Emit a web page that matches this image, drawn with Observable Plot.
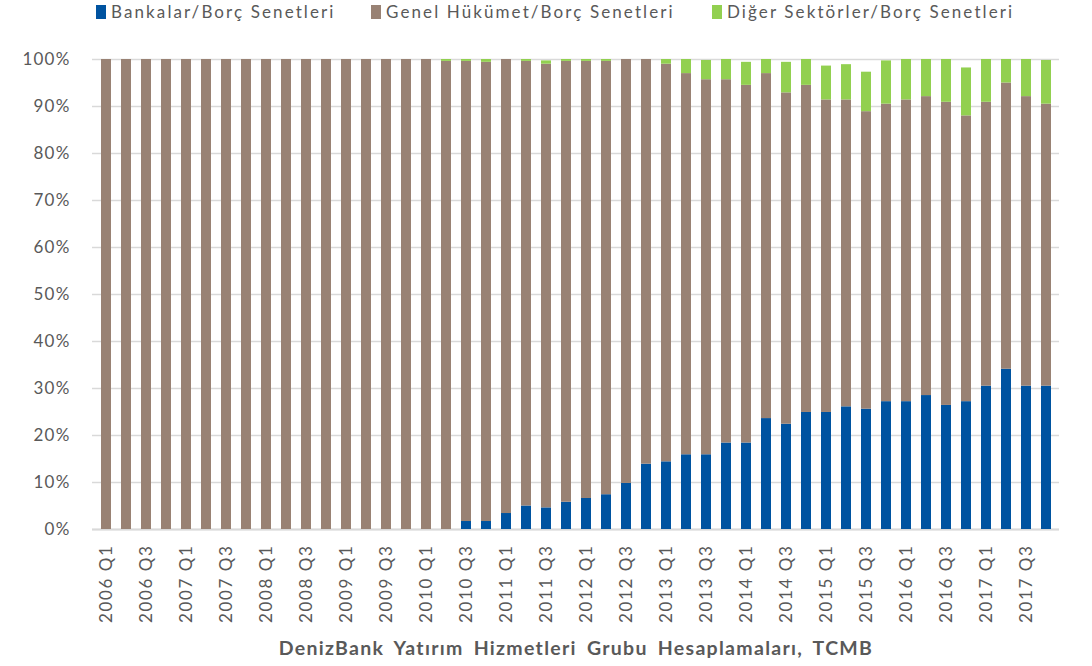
<!DOCTYPE html>
<html>
<head>
<meta charset="utf-8">
<script src="https://cdn.jsdelivr.net/npm/d3@7"></script>
<script src="https://cdn.jsdelivr.net/npm/@observablehq/plot@0.6"></script>
<style>
  body { margin: 0; background: #fff; font-family: Lato, "Liberation Sans", sans-serif; color: #595959; }
  #wrap { position: relative; width: 1092px; height: 666px; }
  #legend { position: absolute; top: 0; left: 0; width: 1092px; height: 26px; }
  .item { position: absolute; top: 2px; font-size: 17px; letter-spacing: 2.1px; line-height: 20px; white-space: nowrap; }
  .sw { display: inline-block; width: 10px; height: 14px; margin-right: 5px; vertical-align: -1px; }
  #chart { position: absolute; top: 26px; left: 0; }
  #caption { position: absolute; top: 636px; left: 92px; width: 968px; text-align: center;
             font-weight: bold; font-size: 19.5px; letter-spacing: 1.3px; word-spacing: 4px; white-space: nowrap; }
  g[aria-label="x-axis tick label"] text { letter-spacing: 1.6px; }
  g[aria-label="y-axis tick label"] text { letter-spacing: 1.2px; }
</style>
</head>
<body>
<div id="wrap">
  <div id="legend"></div>
  <div id="chart"></div>
  <div id="caption">DenizBank Yatırım Hizmetleri Grubu Hesaplamaları, TCMB</div>
</div>
<script>
const quarters = [
  "2006 Q1","2006 Q2","2006 Q3","2006 Q4","2007 Q1","2007 Q2","2007 Q3","2007 Q4",
  "2008 Q1","2008 Q2","2008 Q3","2008 Q4","2009 Q1","2009 Q2","2009 Q3","2009 Q4",
  "2010 Q1","2010 Q2","2010 Q3","2010 Q4","2011 Q1","2011 Q2","2011 Q3","2011 Q4",
  "2012 Q1","2012 Q2","2012 Q3","2012 Q4","2013 Q1","2013 Q2","2013 Q3","2013 Q4",
  "2014 Q1","2014 Q2","2014 Q3","2014 Q4","2015 Q1","2015 Q2","2015 Q3","2015 Q4",
  "2016 Q1","2016 Q2","2016 Q3","2016 Q4","2017 Q1","2017 Q2","2017 Q3","2017 Q4"
];
// Bankalar / Borç Senetleri (%)
const banks = [
  0,0,0,0,0,0,0,0,
  0,0,0,0,0,0,0,0,
  0,0,1.7,1.7,3.4,5.0,4.6,5.8,
  6.6,7.4,9.8,13.9,14.4,15.9,15.9,18.4,
  18.4,23.6,22.4,24.9,24.9,26.1,25.6,27.2,
  27.2,28.5,26.4,27.2,30.5,34.1,30.5,30.5
];
// Genel Hükümet / Borç Senetleri (%)
const government = [
  100,100,100,100,100,100,100,100,
  100,100,100,100,100,100,100,100,
  100,99.6,97.9,97.7,96.6,94.6,94.4,93.8,
  93.0,92.2,90.2,86.1,84.6,81.1,79.8,77.3,
  76.1,73.4,70.5,69.6,66.5,65.3,63.3,63.3,
  64.2,63.6,64.5,60.8,60.4,60.9,61.6,60.0
];
// Diğer Sektörler / Borç Senetleri (%)
const others = [
  0,0,0,0,0,0,0,0,
  0,0,0,0,0,0,0,0,
  0,0.4,0.4,0.6,0,0.4,0.7,0.4,
  0.4,0.4,0,0,1.0,3.0,4.1,4.3,
  4.9,3.0,6.5,5.5,7.2,7.5,8.4,9.2,
  8.6,7.9,9.1,10.2,9.1,5.0,7.9,9.3
];
const seriesNames = ["Bankalar/Borç Senetleri", "Genel Hükümet/Borç Senetleri", "Diğer Sektörler/Borç Senetleri"];
const seriesColors = ["#0053A0", "#998274", "#92D050"];
const yTicks = [0,10,20,30,40,50,60,70,80,90,100];
const xTickLabels = quarters.filter((q, i) => i % 2 === 0);

const seriesValues = [banks, government, others];
const rows = [];
quarters.forEach((q, i) => {
  seriesNames.forEach((s, k) => rows.push({quarter: q, series: s, value: seriesValues[k][i]}));
});

// legend
const legendLefts = [96, 371, 712];
const legend = document.getElementById("legend");
seriesNames.forEach((s, k) => {
  const d = document.createElement("div");
  d.className = "item";
  d.style.left = legendLefts[k] + "px";
  d.innerHTML = `<span class="sw" style="background:${seriesColors[k]}"></span>${s}`;
  legend.appendChild(d);
});

const chart = Plot.plot({
  width: 1092,
  height: 606,
  marginTop: 33,
  marginBottom: 103,
  marginLeft: 92,
  marginRight: 33,
  style: {fontFamily: "Lato, 'Liberation Sans', sans-serif", fontSize: "17px", color: "#595959", background: "white"},
  x: {domain: quarters, paddingInner: 0.5, paddingOuter: 0.22, label: null},
  y: {domain: [0, 100], label: null},
  color: {domain: seriesNames, range: seriesColors},
  marks: [
    Plot.gridY(yTicks, {stroke: "#d9d9d9", strokeOpacity: 1, strokeWidth: 1.5}),
    Plot.ruleY([0], {stroke: "#d9d9d9", strokeWidth: 2}),
    Plot.barY(rows, {x: "quarter", y: "value", fill: "series", order: seriesNames}),
    Plot.axisY(yTicks, {tickFormat: d => d + "%", tickSize: 0, tickPadding: 22, label: null, fill: "#595959"}),
    Plot.axisX(xTickLabels, {tickSize: 0, tickRotate: -90, tickPadding: 15, label: null, fill: "#595959"})
  ]
});
document.getElementById("chart").appendChild(chart);
</script>
</body>
</html>
